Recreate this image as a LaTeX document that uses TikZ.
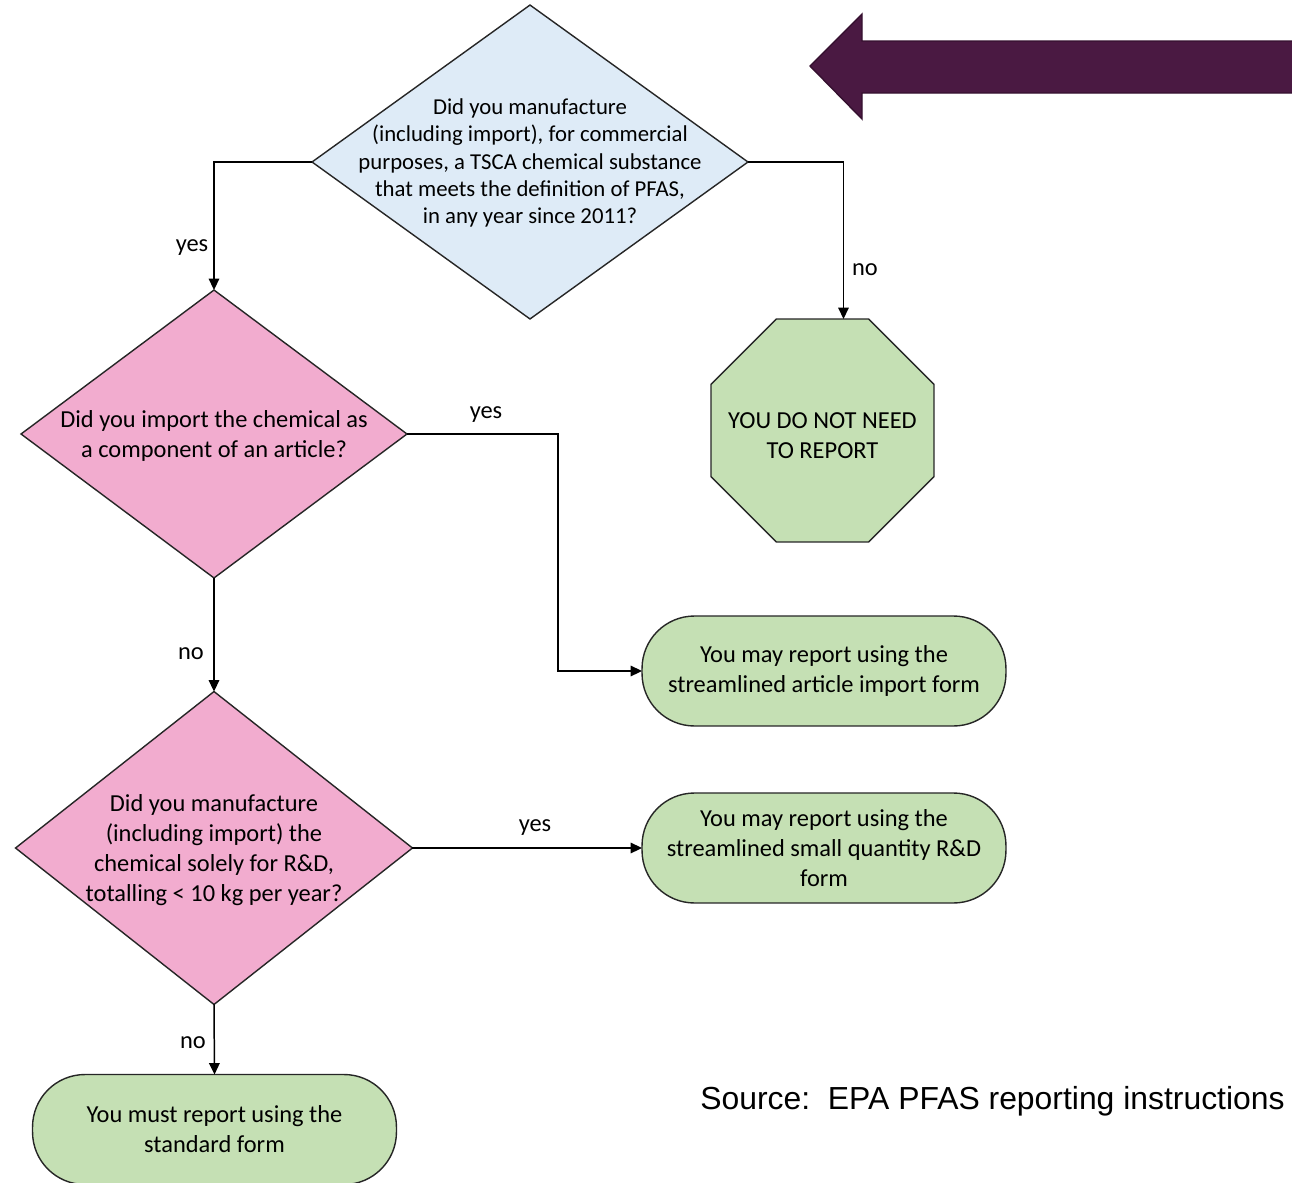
\documentclass[tikz,border=0pt]{standalone}
\usepackage{fontspec}
\setmainfont{Carlito}
\newfontfamily\arialfont{Liberation Sans}
\usetikzlibrary{shapes.geometric,arrows.meta,calc}
\definecolor{qblue}{HTML}{DEEBF7}
\definecolor{qpink}{HTML}{F2ACCF}
\definecolor{qgreen}{HTML}{C5E0B4}
\definecolor{qpurple}{HTML}{4A1942}
\definecolor{qpurpleline}{HTML}{35102F}
\begin{document}
\begin{tikzpicture}[x=0.02cm,y=-0.02cm,
  base/.style={draw=black!85, line width=0.8pt, outer sep=0pt, inner sep=0pt},
  decision/.style={base, diamond},
  stopbox/.style={base, regular polygon, regular polygon sides=8, fill=qgreen, minimum size=4.828cm},
  terminal/.style={base, rectangle, rounded corners=1.05cm, fill=qgreen, minimum width=7.28cm, minimum height=2.2cm, align=center, font=\fontsize{13.9}{17}\selectfont},
  qtext/.style={align=center, inner sep=0pt, font=\fontsize{13.9}{17}\selectfont},
  lbl/.style={inner sep=1pt, font=\fontsize{13.9}{17}\selectfont},
  conn/.style={line width=0.85pt, -{Triangle[length=6.5pt,width=6pt]}},
]
\fill[white] (0,0) rectangle (1292,1183);
\useasboundingbox (0,0) rectangle (1292,1183);

% big arrow
\filldraw[fill=qpurple, draw=qpurpleline, line width=0.8pt] (810,66) -- (862,14) -- (862,41) -- (1300,41) -- (1300,93) -- (862,93) -- (862,119) -- cycle;

% decisions
\node[decision, fill=qblue, minimum width=8.72cm, minimum height=6.28cm] (d1) at (530,162) {};
\node[qtext, font=\fontsize{12.95}{15.5}\selectfont] (d1t) at ($(d1.center)+(0,1)$) {Did you manufacture\\(including import), for commercial\\purposes, a TSCA chemical substance\\that meets the definition of PFAS,\\in any year since 2011?};

\node[decision, fill=qpink, minimum width=7.72cm, minimum height=5.76cm] (d2) at (214,434) {};
\node[qtext] (d2t) at ($(d2.center)+(0,2)$) {Did you import the chemical as\\a component of an article?};

\node[decision, fill=qpink, minimum width=7.94cm, minimum height=6.26cm] (d3) at (214,848) {};
\node[qtext] (d3t) at ($(d3.center)+(0,2)$) {Did you manufacture\\(including import) the\\chemical solely for R\&D,\\totalling < 10 kg per year?};

% stop octagon
\node[stopbox] (oct) at (822.5,430.5) {};
\node[qtext] (octt) at ($(oct.center)+(0,5)$) {YOU DO NOT NEED\\TO REPORT};

% terminals
\node[terminal] (t1) at (824,671) {You may report using the\\streamlined article import form};
\node[terminal] (t2) at (824,848) {You may report using the\\streamlined small quantity R\&D\\form};
\node[terminal] (t3) at (214.5,1129.5) {You must report using the\\standard form};

% connectors
\draw[conn] (d1.west) -| (d2.north);
\draw[conn] (d1.east) -| ($(oct.north)+(21,0)$);
\draw[conn] (d2.east) -- ($(d2.east)+(151,0)$) |- (t1.west);
\draw[conn] (d2.south) -- (d3.north);
\draw[conn] (d3.east) -- (t2.west);
\draw[conn] (d3.south) -- (t3.north);

% labels
\node[lbl] (l1) at (192,248) {yes};
\node[lbl] (l2) at (865,270) {no};
\node[lbl] (l3) at (486,415) {yes};
\node[lbl] (l4) at (191,654) {no};
\node[lbl] (l5) at (535,828) {yes};
\node[lbl] (l6) at (193,1043) {no};

% source
\node[anchor=west, inner sep=0pt, font=\arialfont\fontsize{18.15}{21}\selectfont] (src) at (700,1101) {Source:\ \ EPA PFAS reporting instructions};
\end{tikzpicture}
\end{document}
